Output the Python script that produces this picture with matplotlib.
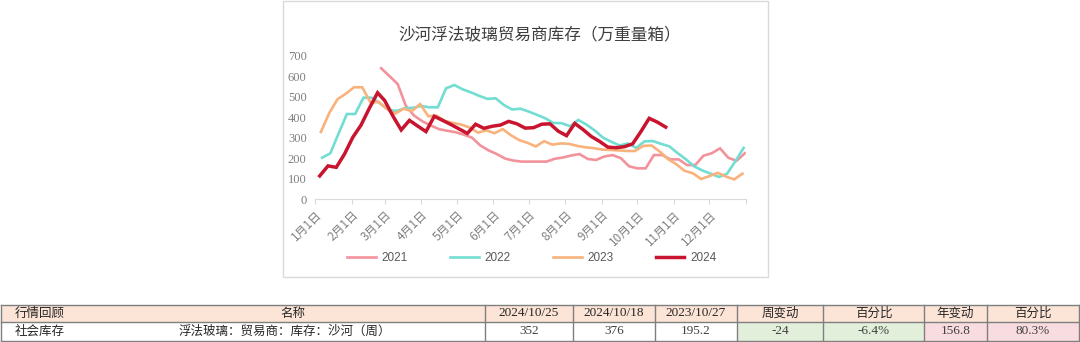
import matplotlib
matplotlib.use('Agg')
import matplotlib.pyplot as plt
from matplotlib.patches import Rectangle
import numpy as np
import pandas as pd

plt.rcParams['font.family'] = ['Noto Sans CJK SC', 'DejaVu Sans']
plt.rcParams['axes.unicode_minus'] = False

# weekly trader inventory at Shahe, 10k weight boxes
inv_2021 = [640, 602, 563, 455, 408, 380, 360, 342, 334, 327, 315, 300, 262, 238, 220,
            198, 188, 183, 183, 183, 183, 197, 203, 213, 220, 196, 191, 208, 215, 200,
            160, 150, 150, 215, 215, 194, 194, 166, 166, 212, 224, 248, 202, 187, 224]
inv_2022 = [202, 224, 321, 416, 416, 496, 496, 468, 436, 431, 444, 447, 455, 449, 449,
            542, 558, 537, 522, 505, 490, 493, 460, 438, 442, 428, 412, 395, 372, 371,
            356, 387, 364, 335, 300, 280, 262, 272, 250, 282, 284, 270, 258, 225, 195,
            160, 140, 124, 108, 124, 185, 250]
inv_2023 = [328, 420, 488, 515, 547, 547, 472, 475, 440, 418, 442, 430, 465, 405, 408,
            382, 372, 364, 350, 325, 336, 322, 342, 312, 288, 275, 257, 283, 266, 272,
            270, 260, 253, 249, 242, 240, 238, 235, 235, 260, 262, 232, 195.2, 170, 138,
            126, 98, 112, 128, 110, 96, 124]
inv_2024 = [113, 162, 155, 220, 302, 362, 444, 520, 482, 406, 338, 385, 357, 330, 405,
            385, 365, 343, 321, 366, 346, 356, 362, 380, 368, 347, 349, 366, 368, 332,
            310, 370, 340, 306, 282, 254, 251, 256, 270, 330, 395, 376, 352]
first_dates = ['2021-02-26', '2022-01-07', '2023-01-06', '2024-01-05']
years = ['2021', '2022', '2023', '2024']
colors = ['#F2939B', '#72DDD3', '#F9B27C', '#C8142E']
widths = [1.9, 1.9, 1.9, 2.5]

month_labels = ['%d月1日' % m for m in range(1, 13)]

# table row
tbl_header = ['行情回顾', '名称', '2024/10/25', '2024/10/18', '2023/10/27',
              '周变动', '百分比', '年变动', '百分比']
tbl_item = '社会库存'
tbl_name = '浮法玻璃：贸易商：库存：沙河（周）'
last_week = inv_2024[-1]
prev_week = inv_2024[-2]
last_year = inv_2023[42]


def day_pos(dates):
    # put every year on a common non-leap calendar
    return np.array([pd.Timestamp(2021, d.month, d.day).dayofyear - 1 for d in dates])


W, H = 1080, 342
fig = plt.figure(figsize=(W / 100, H / 100), dpi=100)
fig.patch.set_facecolor('white')

# chart frame
fig.add_artist(Rectangle((283 / W, 1 - 277 / H), (768 - 283) / W, (277 - 1) / H,
                         transform=fig.transFigure, facecolor='white',
                         edgecolor='#d9d9d9', lw=1, zorder=0))

ax = fig.add_axes([315 / W, 1 - 199 / H, (746 - 315) / W, (199 - 56) / H])
lines = []
for vals, start, yr, c, lw in zip([inv_2021, inv_2022, inv_2023, inv_2024],
                                  first_dates, years, colors, widths):
    dates = pd.date_range(start, periods=len(vals), freq='7D')
    ln, = ax.plot(day_pos(dates), vals, color=c, lw=lw, label=yr,
                  solid_joinstyle='miter')
    lines.append(ln)

ax.set_xlim(0, 365)
ax.set_ylim(0, 700)
ax.set_yticks(np.arange(0, 701, 100))
ax.set_yticklabels([str(v) for v in range(0, 701, 100)], family='Liberation Serif',
                   fontsize=9, color='#7f7f7f')
month_pos = [pd.Timestamp(2021, m, 1).dayofyear - 1 for m in range(1, 13)] + [365]
ax.set_xticks(month_pos)
ax.set_xticklabels(month_labels + [''], rotation=45, ha='right', va='top',
                   rotation_mode='anchor', fontsize=8.5, color='#7f7f7f')
ax.tick_params(axis='y', length=0, pad=6)
ax.tick_params(axis='x', length=3.5, width=0.8, color='#d9d9d9', pad=3)
for s in ['top', 'right', 'left']:
    ax.spines[s].set_visible(False)
ax.spines['bottom'].set_color('#d9d9d9')
ax.patch.set_alpha(0)

fig.text(540 / W, 1 - 35 / H, '沙河浮法玻璃贸易商库存（万重量箱）', ha='center', va='center',
         fontsize=12, color='#3f3f3f', weight='medium')

fig.legend(handles=lines, labels=years, loc='center', bbox_to_anchor=(532 / W, 1 - 258 / H),
           ncol=4, frameon=False, handlelength=2.4, columnspacing=3.6, handletextpad=0.5,
           prop={'family': 'Liberation Sans', 'size': 8.5}, labelcolor='#595959')

# summary table under the chart
tab = fig.add_axes([0, 0, 1, 1], zorder=-1)
tab.set_xlim(0, W)
tab.set_ylim(H, 0)
tab.axis('off')

col_edges = [1, 100, 485, 573, 655, 737, 823, 924, 987, 1079]
y_top, y_mid, y_bot = 305, 322, 341
cell_bg = ['white'] * 5 + ['#E2EFDA'] * 2 + ['#F9DCDF'] * 2

tab.add_patch(Rectangle((col_edges[0], y_top), col_edges[-1] - col_edges[0], y_mid - y_top,
                        facecolor='#FCE4D6', edgecolor='none'))
for i in range(len(col_edges) - 1):
    tab.add_patch(Rectangle((col_edges[i], y_mid), col_edges[i + 1] - col_edges[i],
                            y_bot - y_mid, facecolor=cell_bg[i], edgecolor='none'))

line_c = '#7f7f7f'
for yy in [y_top, y_mid, y_bot]:
    tab.plot([col_edges[0], col_edges[-1]], [yy, yy], color=line_c, lw=1)
for xx in [col_edges[0]] + col_edges[2:]:
    tab.plot([xx, xx], [y_top, y_bot], color=line_c, lw=1)

yh = (y_top + y_mid) / 2
yd = (y_mid + y_bot) / 2
tab.text(15, yh, tbl_header[0], ha='left', va='center', fontsize=9, color='#262626')
tab.text(293, yh, tbl_header[1], ha='center', va='center', fontsize=9, color='#262626')
for i in range(2, 9):
    cx = (col_edges[i] + col_edges[i + 1]) / 2
    fam = 'Liberation Serif' if i < 5 else 'Noto Sans CJK SC'
    tab.text(cx, yh, tbl_header[i], ha='center', va='center', fontsize=9.5 if i < 5 else 9,
             family=fam, color='#262626')

wk_chg = last_week - prev_week
yr_chg = last_week - last_year
row_vals = ['%g' % last_week, '%g' % prev_week, '%.1f' % last_year,
            '%g' % wk_chg, '%.1f%%' % (wk_chg / prev_week * 100),
            '%.1f' % yr_chg, '%.1f%%' % (yr_chg / last_year * 100)]
tab.text(15, yd, tbl_item, ha='left', va='center', fontsize=9, color='#262626')
tab.text(285, yd, tbl_name, ha='center', va='center', fontsize=9, color='#262626')
for i, v in enumerate(row_vals):
    cx = (col_edges[i + 2] + col_edges[i + 3]) / 2
    tab.text(cx, yd, v, ha='center', va='center', fontsize=9.5, family='Liberation Serif',
             color='#404040')

fig.savefig('out.png', dpi=100)
